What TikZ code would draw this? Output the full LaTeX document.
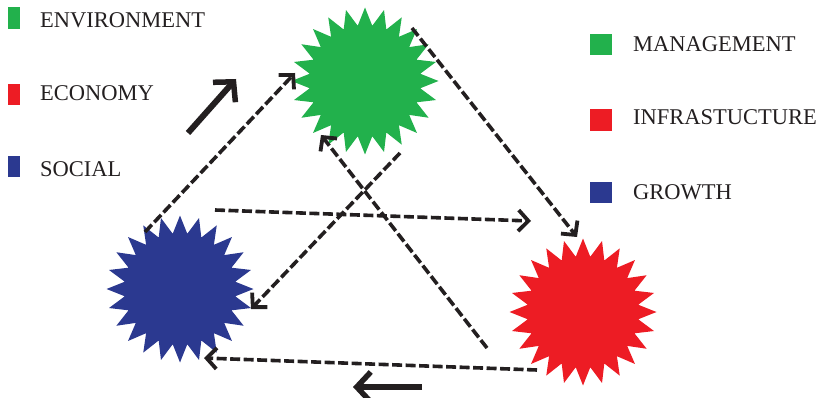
\documentclass[tikz,border=0pt]{standalone}
\usepackage{fontspec}
\setmainfont{Liberation Serif}
\usetikzlibrary{shapes.geometric,arrows.meta}
\definecolor{sgreen}{RGB}{34,177,76}
\definecolor{sred}{RGB}{237,28,36}
\definecolor{sblue}{RGB}{43,57,144}
\definecolor{ink}{RGB}{35,31,32}
\tikzset{
  burst/.style={star, star points=24, star point ratio=1.32, minimum size=147pt, inner sep=0pt, draw=none},
  dasharrow/.style={draw=ink, line width=3.6pt, dash pattern=on 10pt off 3.5pt, -{Straight Barb[length=10pt,width=21pt,line width=3.8pt]}},
  bigarrow/.style={draw=ink, line width=6pt, -{Straight Barb[length=14pt,width=30pt,line width=5.5pt]}},
  legtext/.style={anchor=base west, inner sep=0pt, text=ink, font=\fontsize{22.5}{25}\selectfont}
}
\begin{document}
\begin{tikzpicture}[x=1pt,y=-1pt]
\useasboundingbox (0,0) rectangle (821,398);
% stars
\node[burst, fill=sgreen] (G) at (365,81) {};
\node[burst, fill=sblue] (B) at (180,289) {};
\node[burst, fill=sred] (R) at (583,312) {};
% legend left
\fill[sgreen] (8,7) rectangle (20,29);
\fill[sred] (8,84) rectangle (20,105);
\fill[sblue] (8,156) rectangle (20,177);
\node[legtext] (t1) at (40,28) {ENVIRONMENT};
\node[legtext] (t2) at (40,101) {ECONOMY};
\node[legtext] (t3) at (40,176) {SOCIAL};
% legend right
\fill[sgreen] (590,34) rectangle (612,55);
\fill[sred] (590,109) rectangle (612,131);
\fill[sblue] (590,182) rectangle (612,203);
\node[legtext] (t4) at (633,52) {MANAGEMENT};
\node[legtext] (t5) at (633,125) {INFRASTUCTURE};
\node[legtext] (t6) at (633,200) {GROWTH};
% endpoints
\coordinate (b1) at (145,232);
\coordinate (g1) at (295,73);
\coordinate (g2) at (412,28);
\coordinate (r1) at (577,237);
\coordinate (h1) at (215,210);
\coordinate (h2) at (531,221);
\coordinate (g3) at (400,153);
\coordinate (b2) at (251,309);
\coordinate (f1) at (487,348);
\coordinate (g4) at (321,135);
\coordinate (r2) at (537,370);
\coordinate (b3) at (204,358);
\coordinate (s1) at (188,133);
\coordinate (s2) at (236,79);
\coordinate (s3) at (422,387);
\coordinate (s4) at (353,387);
% dashed connectors
\draw[dasharrow] (b1) -- (g1);
\draw[dasharrow] (g2) -- (r1);
\draw[dasharrow] (h1) -- (h2);
\draw[dasharrow] (g3) -- (b2);
\draw[dasharrow] (f1) -- (g4);
\draw[dasharrow] (r2) -- (b3);
% solid arrows
\draw[bigarrow] (s1) -- (s2);
\draw[bigarrow] (s3) -- (s4);
\end{tikzpicture}
\end{document}
